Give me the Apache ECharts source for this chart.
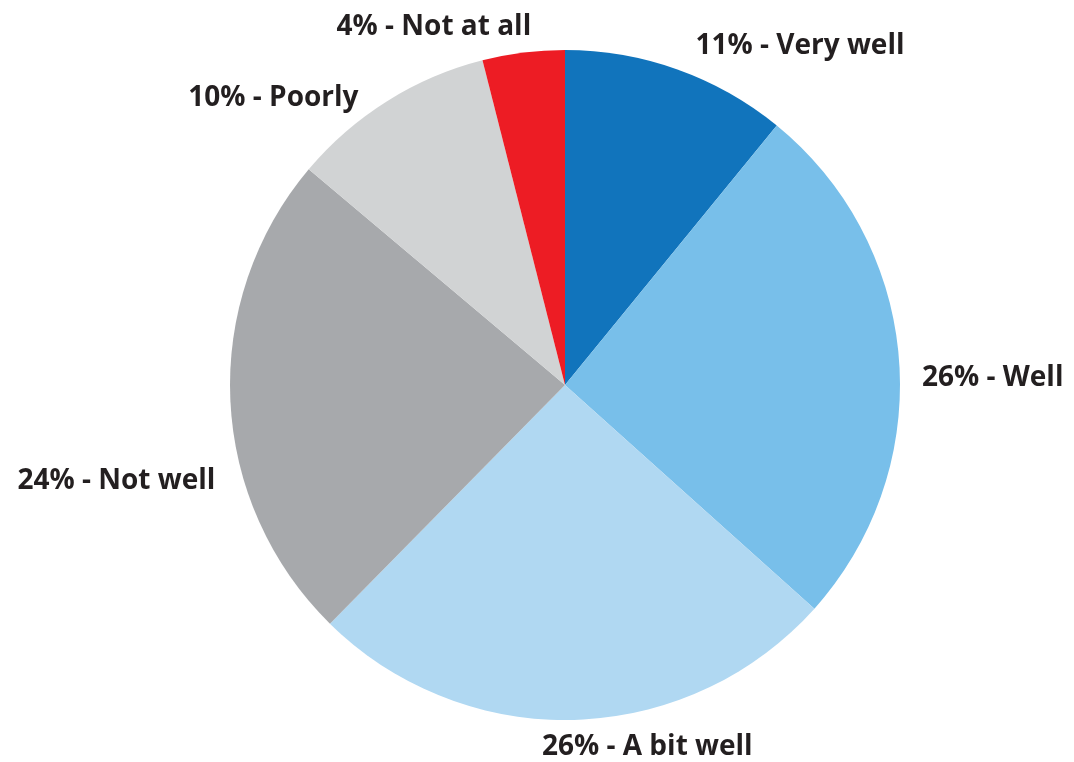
<!DOCTYPE html>
<html>
<head>
<meta charset="utf-8">
<script src="https://cdn.jsdelivr.net/npm/echarts@6/dist/echarts.min.js"></script>
<style>
  html, body { margin: 0; padding: 0; background: #ffffff; }
  #chart { width: 1074px; height: 762px; }
</style>
</head>
<body>
<div id="chart"></div>
<script>
// Survey answers, clockwise from 12 o'clock
const categories = ['Very well', 'Well', 'A bit well', 'Not well', 'Poorly', 'Not at all'];
const shares = [11, 26, 26, 24, 10, 4];
const sliceColors = ['#1174bc', '#78bfea', '#b0d8f2', '#a7a9ac', '#d1d3d4', '#ed1c24'];
// Small per-label nudges away from the default outside position
const labelNudges = [[7, -6], [0, 20], [-39, 9], [8, 80], [-14, 12], [15, -8]];

const chart = echarts.init(document.getElementById('chart'));

chart.setOption({
  backgroundColor: '#ffffff',
  animation: false,
  series: [{
    type: 'pie',
    center: [565, 385],
    radius: 335,
    startAngle: 90,
    clockwise: true,
    avoidLabelOverlap: false,
    itemStyle: { borderWidth: 0 },
    label: {
      show: true,
      position: 'outside',
      formatter: p => p.value + '% - ' + p.name,
      color: '#231f20',
      fontFamily: 'Open Sans',
      fontWeight: 'bold',
      fontSize: 28
    },
    labelLine: { show: false, length: 18, length2: 0 },
    labelLayout: p => ({ dx: labelNudges[p.dataIndex][0], dy: labelNudges[p.dataIndex][1] }),
    data: categories.map((name, i) => ({
      name,
      value: shares[i],
      itemStyle: { color: sliceColors[i] }
    }))
  }]
});
</script>
</body>
</html>
